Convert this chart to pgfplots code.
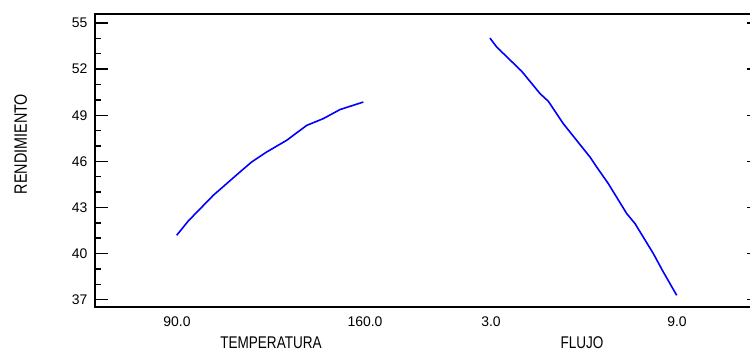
\documentclass[border=0pt]{standalone}
\usepackage{pgfplots}
\pgfplotsset{compat=1.18}
\usepackage{fontspec}
\setmainfont{Liberation Sans}
\newfontfamily\labelfont{Liberation Sans}[FakeStretch=0.8]
\begin{document}
\begin{tikzpicture}
\useasboundingbox (-95bp,-45bp) rectangle (655bp,307bp);
\begin{axis}[
  at={(0,0)}, anchor=origin,
  scale only axis, width=665bp, height=292.7bp,
  xmin=95, xmax=760, ymin=36.52, ymax=55.57,
  axis line style={line width=2bp},
  xtick={177,365,491,677},
  xticklabels={90.0,160.0,3.0,9.0},
  major x tick style={draw=none},
  xticklabel style={yshift=-6bp},
  ytick={37,40,43,46,49,52,55},
  minor y tick num=2,
  ytick pos=both,
  tick align=inside,
  major tick length=13bp,
  minor tick length=6bp,
  y tick style={black, line width=1.4bp},
  yticklabel style={xshift=-4bp},
  tick label style={font=\fontsize{14}{14}\selectfont},
  /pgf/number format/assume math mode=true,
  clip=false,
]
\addplot[blue, line width=1.6bp] coordinates {
(176.7,41.19) (188.3,42.12) (213.3,43.79) (240,45.31) (251.7,45.96)
(266.7,46.61) (286.7,47.37) (306.7,48.34) (323.3,48.78) (340,49.37) (363.3,49.86)
};
\addplot[blue, line width=1.6bp] coordinates {
(490,54.02) (496.7,53.44) (521.7,51.86) (540,50.41) (548.3,49.91) (563.3,48.45)
(590,46.28) (596.7,45.63) (608.3,44.55) (626.7,42.60) (635,41.95) (653.3,40.00)
(663.3,38.80) (676.7,37.28)
};
\end{axis}
\node[font=\labelfont\fontsize{17}{17}\selectfont, anchor=base, inner sep=0pt] at (176bp,-41bp) {TEMPERATURA};
\node[font=\labelfont\fontsize{17}{17}\selectfont, anchor=base, inner sep=0pt] at (487bp,-41bp) {FLUJO};
\node[font=\labelfont\fontsize{18}{18}\selectfont, rotate=90, anchor=base, inner sep=0pt] at (-68bp,163bp) {RENDIMIENTO};
\end{tikzpicture}
\end{document}
